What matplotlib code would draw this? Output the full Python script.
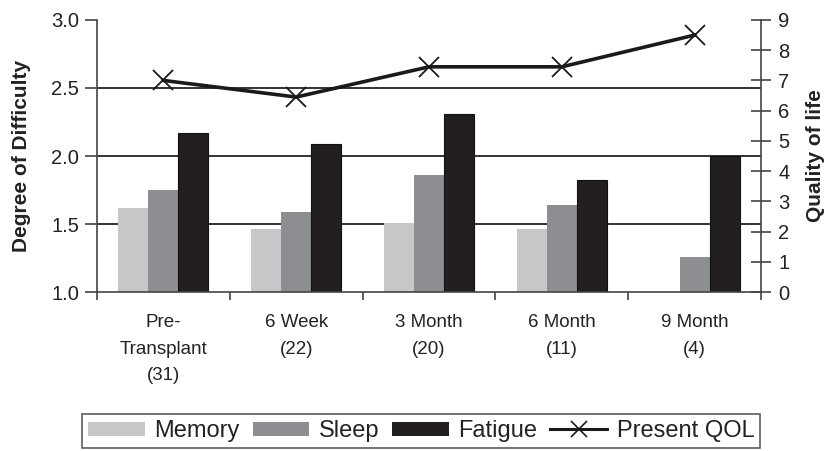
import matplotlib
matplotlib.use("Agg")
import matplotlib.pyplot as plt
import numpy as np
from matplotlib.patches import Patch
from matplotlib.lines import Line2D

plt.rcParams['font.family'] = ['Liberation Sans', 'DejaVu Sans']

categories = ["Pre-\nTransplant\n(31)", "6 Week\n(22)", "3 Month\n(20)", "6 Month\n(11)", "9 Month\n(4)"]
memory = [1.62, 1.46, 1.51, 1.46, np.nan]
sleep = [1.75, 1.59, 1.86, 1.64, 1.255]
fatigue = [2.17, 2.09, 2.31, 1.82, 2.00]
qol = [7.0, 6.45, 7.45, 7.45, 8.5]

c_mem = "#c6c7c9"
c_slp = "#8d8e92"
c_fat = "#231f20"
c_axis = "#444444"

fig = plt.figure(figsize=(8.26, 4.51), dpi=100)
ax = fig.add_axes([0.1174, 0.3525, 0.8039, 0.6032])
ax2 = ax.twinx()

x = np.arange(len(categories))
w = 0.226
ax.set_zorder(1)
ax2.set_zorder(2)
ax.patch.set_visible(False)

for yv in [1.5, 2.0, 2.5]:
    ax.axhline(yv, color="#333333", lw=1.4, zorder=0)

ax.bar(x - w, memory, w, color=c_mem, zorder=2)
ax.bar(x, sleep, w, color=c_slp, zorder=2)
ax.bar(x + w, fatigue, w, color=c_fat, edgecolor="#111111", lw=0.8, zorder=2)

ax.set_ylim(1.0, 3.0)
ax.set_xlim(-0.5, len(categories) - 0.5)
ax.set_yticks([1.0, 1.5, 2.0, 2.5, 3.0])
ax.set_yticklabels(["1.0", "1.5", "2.0", "2.5", "3.0"])

ax2.plot(x, qol, color="#1a1a1a", lw=2.6, marker="x", markersize=14,
         markeredgewidth=1.3, zorder=3)
ax2.set_ylim(0, 9)
ax2.set_yticks(range(10))

ax.set_xticks(x)
ax.set_xticklabels(categories, fontsize=13.5, linespacing=1.72, color="#222222")
ax.set_xticks(np.arange(-0.5, len(categories)), minor=True)
ax.tick_params(axis='x', which='major', length=0, pad=16)
ax.tick_params(axis='x', which='minor', length=6, width=1.2, color=c_axis, direction='out')
ax.tick_params(axis='y', length=9, width=1.2, color=c_axis, direction='out',
               labelsize=14.5, labelcolor="#222222", pad=4)
ax2.tick_params(axis='y', length=15, width=1.2, color=c_axis, direction='inout',
                labelsize=14.5, labelcolor="#222222", pad=5)

for a in (ax, ax2):
    a.spines["top"].set_visible(False)
ax.spines["right"].set_visible(False)
ax2.spines["left"].set_visible(False)
ax2.spines["bottom"].set_visible(False)
ax.spines["left"].set_color(c_axis)
ax.spines["left"].set_linewidth(1.2)
ax.spines["bottom"].set_color(c_axis)
ax.spines["bottom"].set_linewidth(1.2)
ax2.spines["right"].set_color(c_axis)
ax2.spines["right"].set_linewidth(1.2)

ax.set_ylabel("Degree of Difficulty", fontsize=15, fontweight="bold", color="#222222", labelpad=14)
ax2.set_ylabel("Quality of life", fontsize=15, fontweight="bold", color="#222222",
               rotation=90, labelpad=12)

handles = [Patch(facecolor=c_mem, edgecolor="none"),
           Patch(facecolor=c_slp, edgecolor="none"),
           Patch(facecolor=c_fat, edgecolor="none"),
           Line2D([], [], color="#1a1a1a", lw=2.2, marker="x", markersize=11, markeredgewidth=1.2)]
labels = ["Memory", "Sleep", "Fatigue", "Present QOL"]
leg = fig.legend(handles, labels, loc="center", bbox_to_anchor=(0.51, 0.044), ncol=4,
                 fontsize=17, frameon=True, fancybox=False, handlelength=2.4,
                 handleheight=0.55, handletextpad=0.4, columnspacing=0.55,
                 borderpad=0.25, borderaxespad=0)
leg.get_frame().set_edgecolor("#333333")
leg.get_frame().set_linewidth(1.2)
for t in leg.get_texts():
    t.set_color("#222222")

fig.savefig("out.png", dpi=100)
